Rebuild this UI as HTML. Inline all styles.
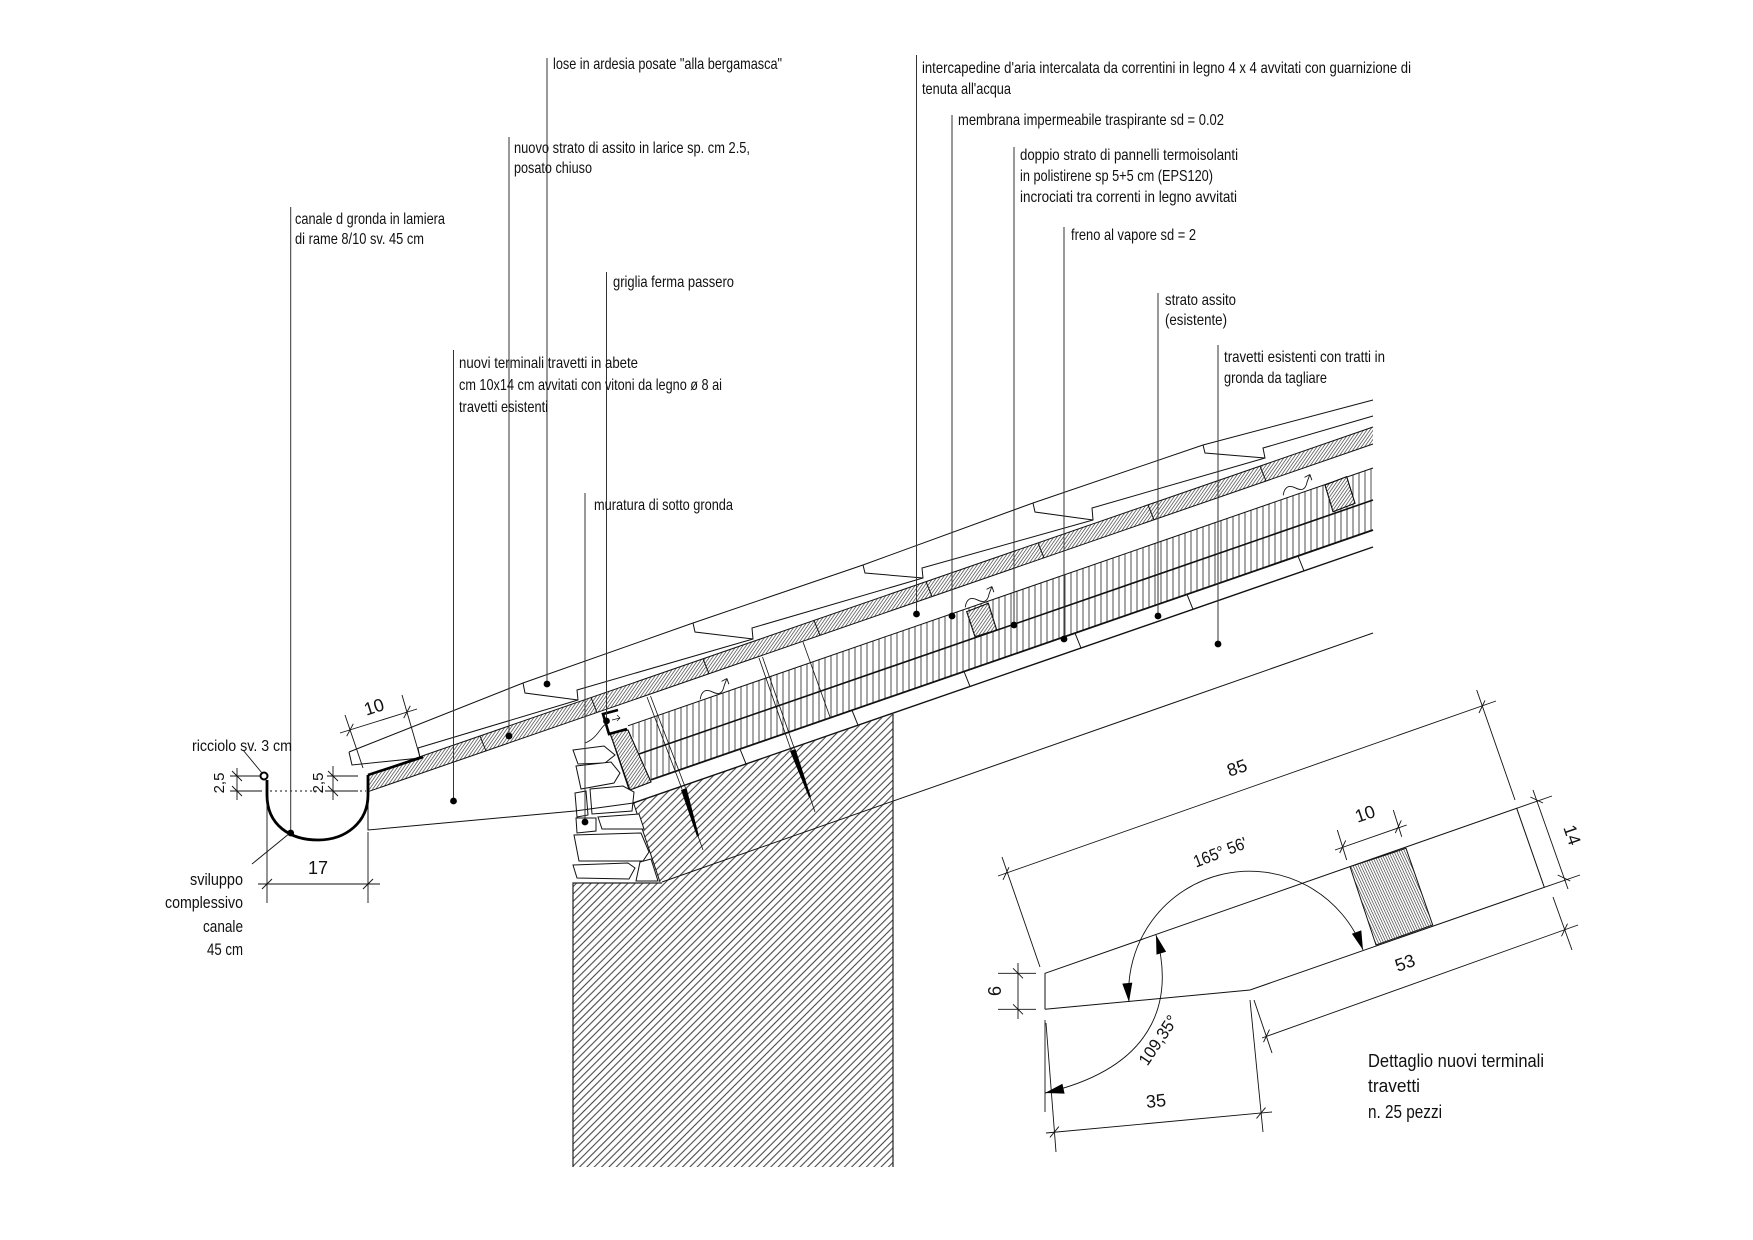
<!DOCTYPE html>
<html><head><meta charset="utf-8"><style>
html,body{margin:0;padding:0;background:#fff;}
svg{display:block;}
text{font-family:"Liberation Sans",sans-serif;fill:#111;}
.lb{font-size:16px;}
.dm{font-size:18px;}
</style></head><body>
<svg xmlns="http://www.w3.org/2000/svg" width="1753" height="1240" viewBox="0 0 1753 1240">
<defs>
<pattern id="wall" patternUnits="userSpaceOnUse" width="5.2" height="20" patternTransform="rotate(45)"><line x1="2.6" y1="0" x2="2.6" y2="20" stroke="#222" stroke-width="0.9"/></pattern>
<pattern id="fine" patternUnits="userSpaceOnUse" width="2.6" height="20" patternTransform="rotate(35)"><line x1="1.3" y1="0" x2="1.3" y2="20" stroke="#222" stroke-width="0.6"/></pattern>
<pattern id="fine2" patternUnits="userSpaceOnUse" width="2.4" height="20" patternTransform="rotate(-25)"><line x1="1.2" y1="0" x2="1.2" y2="20" stroke="#222" stroke-width="0.6"/></pattern>
<pattern id="vl" patternUnits="userSpaceOnUse" width="6" height="20"><line x1="3" y1="0" x2="3" y2="20" stroke="#222" stroke-width="0.8"/></pattern>
</defs>

<!-- wall hatch -->
<polygon points="633.5,802.9 893,714 893,1167 573,1167 573,883 660,883" fill="url(#wall)"/>
<polyline points="573,1167 573,883 662,883" fill="none" stroke="#222" stroke-width="1.2"/>
<line x1="893" y1="714" x2="893" y2="1167" stroke="#222" stroke-width="1.2"/>

<!-- insulation -->
<polygon points="628,725.8 1373,468 1373,530 651,779.8" fill="url(#vl)"/>
<!-- new larch board band -->
<polygon points="368,774.7 1373,427 1373,444 368,791.7" fill="url(#fine)"/>

<!-- layer lines -->
<g stroke="#111" fill="none">
<line x1="368" y1="774.7" x2="1373" y2="427" stroke-width="1"/>
<line x1="368" y1="791.7" x2="1373" y2="444" stroke-width="1"/>
<line x1="628" y1="725.8" x2="1373" y2="468" stroke-width="1"/>
<line x1="639" y1="754" x2="1373" y2="500" stroke-width="1.6"/>
<line x1="651" y1="779.8" x2="1373" y2="530" stroke-width="1.8"/>
<line x1="633.5" y1="802.9" x2="1373" y2="547" stroke-width="1.4"/>
<line x1="662" y1="882" x2="1373" y2="633" stroke-width="1"/>
<line x1="610" y1="733" x2="660" y2="882" stroke-width="1"/>
<line x1="803" y1="642" x2="830" y2="717" stroke-width="0.8"/>
<g stroke-width="1">
<line x1="480" y1="736" x2="486" y2="751"/><line x1="591" y1="697.6" x2="597" y2="712.5"/>
<line x1="703" y1="658.8" x2="709" y2="673.7"/><line x1="814" y1="620.4" x2="820" y2="635.3"/>
<line x1="926" y1="581.7" x2="932" y2="596.6"/><line x1="1038" y1="542.9" x2="1044" y2="557.8"/>
<line x1="1148" y1="504.9" x2="1154" y2="519.8"/><line x1="1260" y1="466.1" x2="1266" y2="481"/>
<line x1="740" y1="749" x2="746" y2="763.9"/><line x1="852" y1="710.3" x2="858" y2="725.2"/>
<line x1="964" y1="671.5" x2="970" y2="686.4"/><line x1="1075" y1="633.1" x2="1081" y2="648"/>
<line x1="1187" y1="594.4" x2="1193" y2="609.3"/><line x1="1298" y1="556" x2="1304" y2="570.9"/>
</g>
</g>

<!-- hatched blocks -->
<g stroke="#111" stroke-width="1">
<polygon points="610,733 628,730 651,782 630,790" fill="#fff"/>
<polygon points="610,733 628,730 651,782 630,790" fill="url(#fine)"/>
<polygon points="966.7,611.7 988.3,603.3 996.7,630 975,636.7" fill="#fff"/>
<polygon points="966.7,611.7 988.3,603.3 996.7,630 975,636.7" fill="url(#fine)"/>
<polygon points="1325,485 1346.7,476.7 1355,503.3 1333,511.7" fill="#fff"/>
<polygon points="1325,485 1346.7,476.7 1355,503.3 1333,511.7" fill="url(#fine)"/>
</g>

<!-- stones -->
<g fill="#fff" stroke="#111" stroke-width="1">
<polygon points="573,750 604,746 615,755 605,763 578,764"/>
<polygon points="576,766 611,762 620,773 614,783 581,789"/>
<polygon points="575,793 586,791 588,815 577,817"/>
<polygon points="590,789 623,786 634,792 632,811 592,814"/>
<polygon points="576,818 596,818 596,831 577,833"/>
<polygon points="598,817 639,814 644,829 602,829"/>
<polygon points="574,835 641,833 649,852 643,861 579,861"/>
<polygon points="573,865 628,863 635,868 629,879 577,878"/>
<polygon points="640,862 651,859 658,881 636,881"/>
</g>

<!-- terminal bottom -->
<polyline points="368,793 368,830 575,811 633.5,803" fill="none" stroke="#111" stroke-width="1"/>

<!-- screws -->
<g stroke="#111" stroke-width="0.8">
<line x1="647" y1="697" x2="682" y2="789"/><line x1="650.5" y1="696" x2="685.5" y2="788"/>
<line x1="698" y1="836" x2="703" y2="850"/>
<line x1="759" y1="658" x2="791" y2="750"/><line x1="762.5" y1="657" x2="794.5" y2="749"/>
<line x1="810" y1="797" x2="815" y2="812"/>
</g>
<polygon points="681,790 686.5,788 699,836 697,836.5" fill="#000"/>
<polygon points="790,751 795.5,749 811,797 809,797.5" fill="#000"/>

<!-- griglia -->
<polyline points="618,710 603,714 609,734 627,729" fill="none" stroke="#000" stroke-width="2.6"/>
<path d="M607,723 C600,727 598,738 585,743" fill="none" stroke="#111" stroke-width="0.8"/>
<path d="M612,720 l8,-2 m-3,-3 l3,3 l-3,3" fill="none" stroke="#111" stroke-width="0.7"/>

<!-- wave arrows -->
<g fill="none" stroke="#111" stroke-width="0.9">
<g transform="translate(715,690) rotate(-19)"><path d="M-17,4 C-13,-4 -8,-4 -3,1 S6,6 10,-1 L15,-7"/><path d="M15,-7 l-6,1 M15,-7 l0,6"/></g>
<g transform="translate(980,598) rotate(-19)"><path d="M-17,4 C-13,-4 -8,-4 -3,1 S6,6 10,-1 L15,-7"/><path d="M15,-7 l-6,1 M15,-7 l0,6"/></g>
<g transform="translate(1298,486) rotate(-19)"><path d="M-17,4 C-13,-4 -8,-4 -3,1 S6,6 10,-1 L15,-7"/><path d="M15,-7 l-6,1 M15,-7 l0,6"/></g>
</g>

<!-- slates -->
<g fill="none" stroke="#111" stroke-width="1">
<polyline points="349,752 523,683 693,623 863,565 1033,503 1203,445 1373,400"/>
<polyline points="418,748 578,700 577,690 753,639 752,628 923,578 922,568 1093,520 1092,508 1265,458 1263,448 1373,416"/>
<polyline points="349,752 352,765 420,758 418,748"/>
<polyline points="523,683 525,693 578,700"/>
<polyline points="693,623 695,632 753,639"/>
<polyline points="863,565 865,573 923,578"/>
<polyline points="1033,503 1035,512 1093,520"/>
<polyline points="1203,445 1205,453 1265,458"/>
</g>
<line x1="368" y1="775" x2="423" y2="757" stroke="#000" stroke-width="2.6"/>

<!-- gutter -->
<circle cx="264" cy="776" r="3.5" fill="#fff" stroke="#000" stroke-width="2"/>
<path d="M267,780 L267,795 C267,825 290,840 318,840 C346,840 368,822 368,795 L368,775" fill="none" stroke="#000" stroke-width="2.8"/>
<line x1="270" y1="791" x2="366" y2="791" stroke="#111" stroke-width="1" stroke-dasharray="2,3"/>

<!-- gutter dims -->
<g stroke="#111" stroke-width="0.9" fill="none">
<line x1="230" y1="776" x2="260" y2="776"/><line x1="230" y1="791" x2="262" y2="791"/>
<line x1="237" y1="768" x2="237" y2="800"/>
<line x1="232" y1="771" x2="242" y2="781"/><line x1="232" y1="786" x2="242" y2="796"/>
<line x1="327" y1="776" x2="358" y2="776"/><line x1="327" y1="791" x2="358" y2="791"/>
<line x1="333" y1="766" x2="333" y2="800"/>
<line x1="328" y1="771" x2="338" y2="781"/><line x1="328" y1="786" x2="338" y2="796"/>
<line x1="267" y1="798" x2="267" y2="903"/><line x1="368" y1="832" x2="368" y2="903"/>
<line x1="258" y1="884" x2="380" y2="884"/>
<line x1="262" y1="889" x2="272" y2="879"/><line x1="363" y1="889" x2="373" y2="879"/>
<line x1="345" y1="715" x2="363" y2="768"/><line x1="402" y1="695" x2="420" y2="757"/>
<line x1="340" y1="733" x2="417" y2="709"/>
<line x1="346.7" y1="736.2" x2="353.3" y2="723.8"/><line x1="403.7" y1="718.2" x2="410.3" y2="705.8"/>
<line x1="243" y1="750" x2="262" y2="773"/>
<line x1="290" y1="833" x2="252" y2="864"/>
</g>
<text class="dm" transform="translate(218,783) rotate(-90)" text-anchor="middle" dy="6" style="font-size:15px">2,5</text>
<text class="dm" transform="translate(317,783) rotate(-90)" text-anchor="middle" dy="6" style="font-size:15px">2,5</text>
<text class="dm" x="318" y="874" text-anchor="middle">17</text>
<text class="dm" transform="translate(374,707) rotate(-18)" text-anchor="middle" dy="6">10</text>

<!-- leader lines -->
<g stroke="#333" stroke-width="1">
<line x1="290.7" y1="207" x2="290.7" y2="833"/>
<line x1="453.5" y1="350" x2="453.5" y2="801"/>
<line x1="509" y1="137" x2="509" y2="736"/>
<line x1="547" y1="58" x2="547" y2="684"/>
<line x1="606.5" y1="272" x2="606.5" y2="721"/>
<line x1="585" y1="493" x2="585" y2="822"/>
<line x1="916.5" y1="55" x2="916.5" y2="614"/>
<line x1="952" y1="115" x2="952" y2="616"/>
<line x1="1014" y1="147" x2="1014" y2="625"/>
<line x1="1064" y1="227" x2="1064" y2="639"/>
<line x1="1158" y1="293" x2="1158" y2="616"/>
<line x1="1218" y1="345" x2="1218" y2="644"/>
</g>
<g fill="#000">
<circle cx="290.7" cy="833" r="3.4"/><circle cx="453.5" cy="801" r="3.4"/>
<circle cx="509" cy="736" r="3.4"/><circle cx="547" cy="684" r="3.4"/>
<circle cx="606.5" cy="721" r="3.4"/><circle cx="585" cy="822" r="3.4"/>
<circle cx="916.5" cy="614" r="3.4"/><circle cx="952" cy="616" r="3.4"/>
<circle cx="1014" cy="625" r="3.4"/><circle cx="1064" cy="639" r="3.4"/>
<circle cx="1158" cy="616" r="3.4"/><circle cx="1218" cy="644" r="3.4"/>
</g>

<!-- labels -->
<g class="lb">
<text x="295" y="224" textLength="150" lengthAdjust="spacingAndGlyphs">canale d gronda in lamiera</text>
<text x="295" y="244" textLength="129" lengthAdjust="spacingAndGlyphs">di rame 8/10 sv. 45 cm</text>
<text x="459" y="368" textLength="179" lengthAdjust="spacingAndGlyphs">nuovi terminali travetti in abete</text>
<text x="459" y="390" textLength="263" lengthAdjust="spacingAndGlyphs">cm 10x14 cm avvitati con vitoni da legno ø 8 ai</text>
<text x="459" y="412" textLength="89" lengthAdjust="spacingAndGlyphs">travetti esistenti</text>
<text x="514" y="153" textLength="236" lengthAdjust="spacingAndGlyphs">nuovo strato di assito in larice sp. cm 2.5,</text>
<text x="514" y="173" textLength="78" lengthAdjust="spacingAndGlyphs">posato chiuso</text>
<text x="553" y="69" textLength="229" lengthAdjust="spacingAndGlyphs">lose in ardesia posate "alla bergamasca"</text>
<text x="613" y="287" textLength="121" lengthAdjust="spacingAndGlyphs">griglia ferma passero</text>
<text x="594" y="510" textLength="139" lengthAdjust="spacingAndGlyphs">muratura di sotto gronda</text>
<text x="922" y="73" textLength="489" lengthAdjust="spacingAndGlyphs">intercapedine d'aria intercalata da correntini in legno 4 x 4 avvitati con guarnizione di</text>
<text x="922" y="94" textLength="89" lengthAdjust="spacingAndGlyphs">tenuta all'acqua</text>
<text x="958" y="125" textLength="266" lengthAdjust="spacingAndGlyphs">membrana impermeabile traspirante sd = 0.02</text>
<text x="1020" y="160" textLength="218" lengthAdjust="spacingAndGlyphs">doppio strato di pannelli termoisolanti</text>
<text x="1020" y="181" textLength="193" lengthAdjust="spacingAndGlyphs">in polistirene sp 5+5 cm (EPS120)</text>
<text x="1020" y="202" textLength="217" lengthAdjust="spacingAndGlyphs">incrociati tra correnti in legno avvitati</text>
<text x="1071" y="240" textLength="125" lengthAdjust="spacingAndGlyphs">freno al vapore sd = 2</text>
<text x="1165" y="305" textLength="71" lengthAdjust="spacingAndGlyphs">strato assito</text>
<text x="1165" y="325" textLength="62" lengthAdjust="spacingAndGlyphs">(esistente)</text>
<text x="1224" y="362" textLength="161" lengthAdjust="spacingAndGlyphs">travetti esistenti con tratti in</text>
<text x="1224" y="383" textLength="103" lengthAdjust="spacingAndGlyphs">gronda da tagliare</text>
<text x="192" y="751" textLength="100" lengthAdjust="spacingAndGlyphs">ricciolo sv. 3 cm</text>
</g>
<g style="font-size:17px">
<text x="190" y="885" textLength="53" lengthAdjust="spacingAndGlyphs">sviluppo</text>
<text x="165" y="908" textLength="78" lengthAdjust="spacingAndGlyphs">complessivo</text>
<text x="203" y="932" textLength="40" lengthAdjust="spacingAndGlyphs">canale</text>
<text x="207" y="955" textLength="36" lengthAdjust="spacingAndGlyphs">45 cm</text>
</g>
<g style="font-size:18px">
<text x="1368" y="1067" textLength="176" lengthAdjust="spacingAndGlyphs">Dettaglio nuovi terminali</text>
<text x="1368" y="1092" textLength="52" lengthAdjust="spacingAndGlyphs">travetti</text>
<text x="1368" y="1118" textLength="74" lengthAdjust="spacingAndGlyphs">n. 25 pezzi</text>
</g>

<!-- DETAIL -->
<polyline points="1045,1009.3 1045,973.3 1516.7,808.3 1544.3,887.3 1250,990 1045,1009.3" fill="none" stroke="#111" stroke-width="1"/>
<polygon points="1350,866.7 1406,848.3 1432.7,925 1376,945" fill="#fff" stroke="#111" stroke-width="1"/>
<polygon points="1350,866.7 1406,848.3 1432.7,925 1376,945" fill="url(#fine2)"/>
<g fill="none" stroke="#111" stroke-width="0.9">
<line x1="1002" y1="857" x2="1040" y2="967"/><line x1="1476.7" y1="690" x2="1515" y2="800"/>
<line x1="998" y1="876" x2="1496" y2="701"/>
<line x1="1003" y1="879.8" x2="1009" y2="867.2"/><line x1="1479" y1="713" x2="1485" y2="700.4"/>
<line x1="1516.7" y1="808.3" x2="1552" y2="796"/><line x1="1544.3" y1="887.3" x2="1580" y2="875"/>
<line x1="1533" y1="790" x2="1568" y2="889"/>
<line x1="1530.4" y1="797" x2="1543" y2="803"/><line x1="1557.7" y1="875" x2="1570.3" y2="881"/>
<line x1="1337.3" y1="830" x2="1346.7" y2="860"/><line x1="1393.3" y1="810" x2="1401.7" y2="836.7"/>
<line x1="1335" y1="850" x2="1406.7" y2="825"/>
<line x1="1339.7" y1="853" x2="1345.7" y2="840.4"/><line x1="1395.3" y1="833" x2="1401.3" y2="820.4"/>
<line x1="1254" y1="1000" x2="1272" y2="1053"/><line x1="1553" y1="897" x2="1572" y2="950"/>
<line x1="1262" y1="1038" x2="1578" y2="925"/>
<line x1="1263.5" y1="1042.2" x2="1269.5" y2="1029.6"/><line x1="1561.5" y1="936.3" x2="1567.5" y2="923.7"/>
<line x1="998" y1="973.3" x2="1036" y2="973.3"/><line x1="998" y1="1009.3" x2="1036" y2="1009.3"/>
<line x1="1018" y1="963" x2="1018" y2="1019"/>
<line x1="1013" y1="968.3" x2="1023" y2="978.3"/><line x1="1013" y1="1004.3" x2="1023" y2="1014.3"/>
<line x1="1045" y1="1020" x2="1045" y2="1112"/>
<line x1="1046" y1="1023" x2="1056" y2="1152"/><line x1="1250" y1="1000" x2="1263" y2="1132"/>
<line x1="1046" y1="1133" x2="1272" y2="1112"/>
<line x1="1049.9" y1="1137.4" x2="1058.9" y2="1126.6"/><line x1="1256.5" y1="1118.4" x2="1265.5" y2="1107.6"/>
<path d="M1129,1002 A121,121 0 0 1 1363,950"/>
<path d="M1156,935 C1172,990 1165,1065 1045,1093"/>
</g>
<g fill="#000">
<polygon points="1129,1002 1132.3,982.6 1122.3,983.6"/>
<polygon points="1363,950 1361.3,930.4 1351.9,933.8"/>
<polygon points="1156,935 1166.1,951.8 1156.5,954.6"/>
<polygon points="1045,1093 1064.6,1093.6 1062.4,1083.8"/>
</g>
<text class="dm" transform="translate(1237,768) rotate(-19)" text-anchor="middle" dy="6">85</text>
<text class="dm" transform="translate(1365,814) rotate(-19)" text-anchor="middle" dy="6">10</text>
<text class="dm" transform="translate(1572,835) rotate(71)" text-anchor="middle" dy="6">14</text>
<text class="dm" transform="translate(1405,963) rotate(-19.6)" text-anchor="middle" dy="6">53</text>
<text class="dm" transform="translate(1156,1101) rotate(-6)" text-anchor="middle" dy="6">35</text>
<text class="dm" transform="translate(995,991) rotate(-90)" text-anchor="middle" dy="6">6</text>
<text class="dm" transform="translate(1220,852) rotate(-21)" text-anchor="middle" dy="6" style="font-size:17px" textLength="56" lengthAdjust="spacingAndGlyphs">165° 56'</text>
<text class="dm" transform="translate(1158,1040) rotate(-56)" text-anchor="middle" dy="6" style="font-size:17px" textLength="56" lengthAdjust="spacingAndGlyphs">109,35°</text>
</svg>
</body></html>
